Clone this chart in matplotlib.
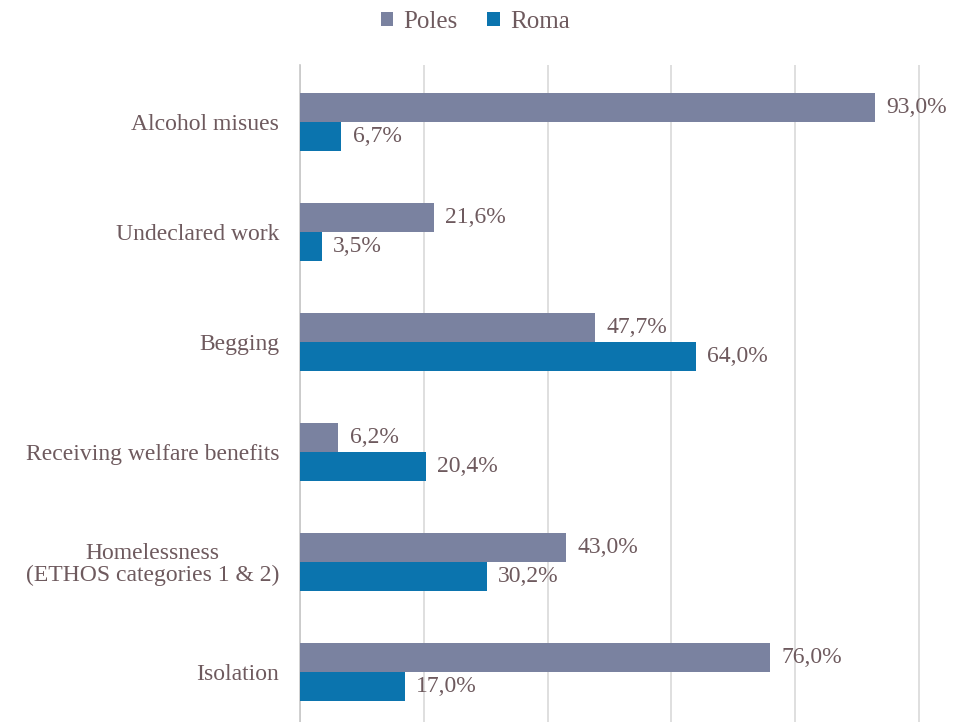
import matplotlib
matplotlib.use("Agg")
import matplotlib.pyplot as plt
import numpy as np

categories = ["Alcohol misues", "Undeclared work", "Begging",
              "Receiving welfare benefits",
              "Homelessness\n(ETHOS categories 1 & 2)", "Isolation"]
poles = [93.0, 21.6, 47.7, 6.2, 43.0, 76.0]
roma = [6.7, 3.5, 64.0, 20.4, 30.2, 17.0]
series_names = ["Poles", "Roma"]
colors = ["#7A82A0", "#0B74AE"]
text_color = "#6E5A5E"

plt.rcParams['font.family'] = ['Liberation Serif', 'DejaVu Serif']

fig = plt.figure(figsize=(9.55, 7.22), dpi=100)
ax = fig.add_axes([300/955, 0.0, 620/955, 1 - 65/722])

y = np.arange(len(categories))
h = 0.265
b1 = ax.barh(y - h/2, poles, height=h, color=colors[0], label=series_names[0], zorder=3)
b2 = ax.barh(y + h/2, roma, height=h, color=colors[1], label=series_names[1], zorder=3)

for bars, vals in ((b1, poles), (b2, roma)):
    for bar, v in zip(bars, vals):
        ax.text(v + 1.8, bar.get_y() + bar.get_height()/2,
                f"{v:.1f}%".replace(".", ","), va="center", ha="left",
                fontsize=17, color=text_color)

ax.set_xlim(0, 100.2)
ax.set_ylim(5.455, -0.518)
ax.set_xticks([0, 20, 40, 60, 80, 100])
ax.xaxis.grid(True, color="#D9D9D9", linewidth=1.2, zorder=0)
ax.tick_params(axis='x', length=0, labelbottom=False)
ax.set_yticks(y)
ax.set_yticklabels(categories, fontsize=17, color=text_color, linespacing=1.05)
for lbl in ax.get_yticklabels():
    lbl.set_horizontalalignment('right')
    lbl.set_multialignment('center')
ax.tick_params(axis='y', length=0, pad=15)
for s in ["top", "right", "bottom"]:
    ax.spines[s].set_visible(False)
ax.spines["left"].set_color("#C8C8C8")
ax.spines["left"].set_linewidth(1.2)

leg = fig.legend(handles=[b1, b2], labels=series_names, loc="center",
                 bbox_to_anchor=(475/955, 1 - 22/722), ncol=2, frameon=False,
                 fontsize=18, handlelength=0.5, handleheight=0.5,
                 handletextpad=0.4, columnspacing=1.2)
for t in leg.get_texts():
    t.set_color(text_color)

fig.savefig("out.png", dpi=100)
